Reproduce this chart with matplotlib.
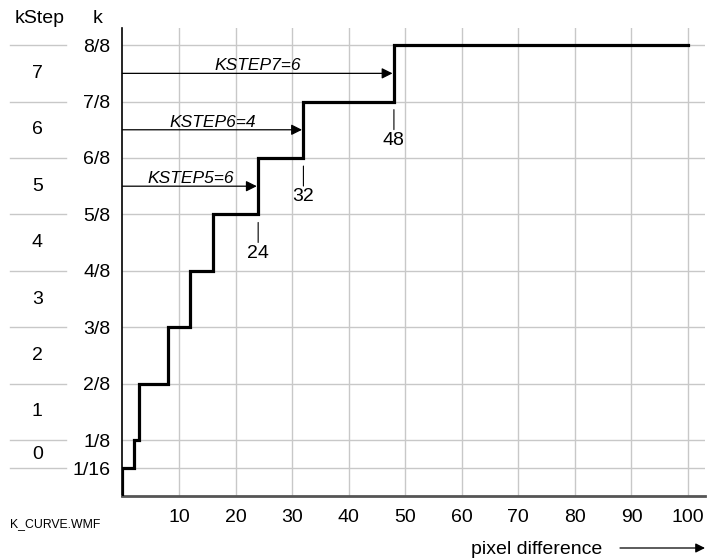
import matplotlib
matplotlib.use("Agg")
import matplotlib.pyplot as plt
from matplotlib.lines import Line2D
from matplotlib.transforms import offset_copy

plt.rcParams['font.family'] = ['Liberation Sans', 'DejaVu Sans']

# ---- data ----
step_x = [0, 0, 2, 3, 8, 12, 16, 24, 32, 48, 100]
step_k = [0, 1/16, 1/8, 2/8, 3/8, 4/8, 5/8, 6/8, 7/8, 8/8, 8/8]

k_ticks = [1/16, 1/8, 2/8, 3/8, 4/8, 5/8, 6/8, 7/8, 8/8]
k_labels = ['1/16', '1/8', '2/8', '3/8', '4/8', '5/8', '6/8', '7/8', '8/8']

kstep_vals = [0, 1, 2, 3, 4, 5, 6, 7]
kstep_pos = [3/32, 1.5/8, 2.5/8, 3.5/8, 4.5/8, 5.5/8, 6.5/8, 7.5/8]

x_ticks = [10, 20, 30, 40, 50, 60, 70, 80, 90, 100]

arrow_names = ['KSTEP5=6', 'KSTEP6=4', 'KSTEP7=6']
arrow_x = [24, 32, 48]
arrow_k = [5.5/8, 6.5/8, 7.5/8]

mark_x = [24, 32, 48]
mark_k = [5/8, 6/8, 7/8]

FS = 14

# ---- figure ----
fig = plt.figure(figsize=(7.1, 5.6), dpi=100)
ax = fig.add_axes([0.1724, 0.1134, 0.8206, 0.8366])
ax.set_xlim(0, 103)
ax.set_ylim(0, 1.038)

grid_c = '#c8c8c8'
ax.set_xticks(x_ticks)
ax.set_yticks(k_ticks)
ax.set_yticklabels(k_labels)
ax.grid(True, color=grid_c, lw=1.0)
ax.set_axisbelow(True)
ax.tick_params(axis='both', length=0, labelsize=FS)
ax.tick_params(axis='y', pad=8.5)
ax.tick_params(axis='x', pad=9)

for s in ['top', 'right']:
    ax.spines[s].set_visible(False)
ax.spines['left'].set_color('black')
ax.spines['left'].set_linewidth(1.2)
ax.spines['bottom'].set_color('#555555')
ax.spines['bottom'].set_linewidth(2.0)

ax.step(step_x, step_k, where='post', color='black', lw=2.3, zorder=5,
        solid_joinstyle='miter')

# KSTEP arrows
txt_tr = offset_copy(ax.transData, fig=fig, x=0, y=2.2, units='points')
for name, xa, ka in zip(arrow_names, arrow_x, arrow_k):
    ax.annotate('', xy=(xa, ka), xytext=(0, ka),
                arrowprops=dict(arrowstyle='-|>', color='black', lw=0.9,
                                mutation_scale=16, shrinkA=0, shrinkB=1),
                zorder=6)
    ax.text(xa / 2, ka, name, ha='center', va='baseline', fontsize=12.5,
            style='italic', zorder=6, transform=txt_tr)

# step markers below corners
top_tr = offset_copy(ax.transData, fig=fig, x=0, y=-5.8, units='points')
bot_tr = offset_copy(ax.transData, fig=fig, x=0, y=-20.2, units='points')
lab_tr = offset_copy(ax.transData, fig=fig, x=0, y=-28, units='points')
for xm, km in zip(mark_x, mark_k):
    ax.annotate('', xy=(xm, km), xycoords=top_tr, xytext=(xm, km), textcoords=bot_tr,
                arrowprops=dict(arrowstyle='-', color='black', lw=0.8,
                                shrinkA=0, shrinkB=0))
    ax.text(xm, km, str(xm), transform=lab_tr, ha='center', va='center', fontsize=FS)

# kStep column
yt = ax.get_yaxis_transform()
for kt in k_ticks:
    ax.add_line(Line2D([-0.193, -0.097], [kt, kt], transform=yt, color=grid_c,
                       lw=1.0, clip_on=False))
for v, p in zip(kstep_vals, kstep_pos):
    ax.text(-0.146, p, str(v), transform=yt, ha='center', va='center', fontsize=FS)

fig.text(40/710, 1 - 23/560, 'kStep', ha='center', va='baseline', fontsize=FS)
fig.text(98/710, 1 - 23/560, 'k', ha='center', va='baseline', fontsize=FS)
fig.text(10/710, 1 - 527/560, 'K_CURVE.WMF', ha='left', va='baseline', fontsize=8.8)
fig.text(602/710, 1 - 554/560, 'pixel difference', ha='right', va='baseline', fontsize=FS)
fig.add_artist(matplotlib.patches.FancyArrowPatch((620/710, 1 - 548/560), (705/710, 1 - 548/560),
               transform=fig.transFigure, arrowstyle='-|>', mutation_scale=14,
               color='black', lw=0.9, shrinkA=0, shrinkB=0))

fig.savefig('out.png', dpi=100)
